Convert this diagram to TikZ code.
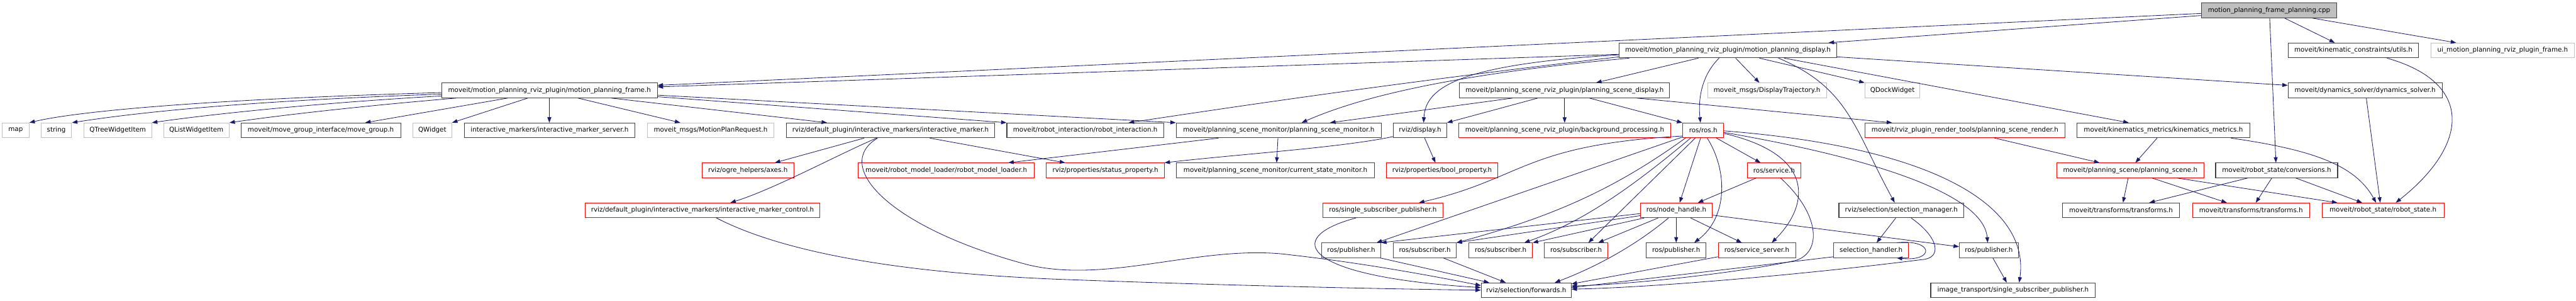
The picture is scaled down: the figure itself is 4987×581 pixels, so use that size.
\documentclass[tikz,border=0pt]{standalone}
\usepackage{fontspec}
\newfontfamily\djv{DejaVu Sans}
\usetikzlibrary{arrows.meta}
\definecolor{edgec}{HTML}{191970}
\definecolor{greyb}{HTML}{BFBFBF}
\definecolor{blackb}{HTML}{404040}
\definecolor{redb}{HTML}{FF0000}
\newcommand\nd[6]{\node[#2, minimum width={#4-#3}] (#1) at ({(#3+#4)/2},#5) {#6};}
\tikzset{
  basebox/.style={rectangle, inner sep=0pt, minimum height=28.5pt, fill=white,
    font=\djv\fontsize{12.6}{15}\selectfont},
  bbox/.style={basebox, draw=blackb, line width=1.3pt},
  rbox/.style={basebox, draw=redb, line width=1pt},
  gbox/.style={basebox, draw=greyb, line width=1.3pt},
  cbox/.style={basebox, draw=blackb, line width=1.3pt, fill=greyb},
  e/.style={draw=edgec, line width=1pt, -{Triangle[length=10.5pt,width=7.5pt]}},
}
\begin{document}
\begin{tikzpicture}[x=1pt,y=-1pt]
\fill[white] (0,0) rectangle (4987,581);
\useasboundingbox (0,0) rectangle (4987,581);
% row 0
\nd{cpp}{cbox}{4261.5}{4524}{20.25}{motion\_planning\_frame\_planning.cpp}
% row 1
\nd{mpd}{bbox}{3134.4}{3555.7}{97.5}{moveit/motion\_planning\_rviz\_plugin/motion\_planning\_display.h}
\nd{kcu}{bbox}{4429.6}{4682.4}{97.5}{moveit/kinematic\_constraints/utils.h}
\nd{uif}{gbox}{4706}{4984}{97.5}{ui\_motion\_planning\_rviz\_plugin\_frame.h}
% row 2
\nd{mpf}{bbox}{855.2}{1272.4}{174.8}{moveit/motion\_planning\_rviz\_plugin/motion\_planning\_frame.h}
\nd{psd}{bbox}{2825.8}{3232.4}{174.8}{moveit/planning\_scene\_rviz\_plugin/planning\_scene\_display.h}
\nd{dtr}{gbox}{3305.7}{3535.9}{174.8}{moveit\_msgs/DisplayTrajectory.h}
\nd{qdw}{gbox}{3610.3}{3716.9}{174.8}{QDockWidget}
\nd{dsv}{bbox}{4429.6}{4727.9}{174.8}{moveit/dynamics\_solver/dynamics\_solver.h}
% row 3
\nd{map}{gbox}{4.3}{56.2}{252.1}{map}
\nd{str}{gbox}{79.3}{138.7}{252.1}{string}
\nd{qtw}{gbox}{162.3}{293.5}{252.1}{QTreeWidgetItem}
\nd{qlw}{gbox}{316.6}{443.5}{252.1}{QListWidgetItem}
\nd{mgi}{bbox}{466.5}{775.6}{252.1}{moveit/move\_group\_interface/move\_group.h}
\nd{qwd}{gbox}{799.1}{874.5}{252.1}{QWidget}
\nd{ims}{bbox}{898.6}{1229.6}{252.1}{interactive\_markers/interactive\_marker\_server.h}
\nd{mpr}{gbox}{1253.1}{1498.4}{252.1}{moveit\_msgs/MotionPlanRequest.h}
\nd{imk}{bbox}{1522.7}{1925.3}{252.1}{rviz/default\_plugin/interactive\_markers/interactive\_marker.h}
\nd{rin}{bbox}{1949.2}{2252.9}{252.1}{moveit/robot\_interaction/robot\_interaction.h}
\nd{psm}{bbox}{2277}{2674.3}{252.1}{moveit/planning\_scene\_monitor/planning\_scene\_monitor.h}
\nd{rdp}{bbox}{2697.8}{2800.7}{252.1}{rviz/display.h}
\nd{bgp}{rbox}{2823.7}{3234.5}{252.1}{moveit/planning\_scene\_rviz\_plugin/background\_processing.h}
\nd{ros}{rbox}{3257.5}{3337}{252.1}{ros/ros.h}
\nd{psr}{rbox}{3610.3}{3997.6}{252.1}{moveit/rviz\_plugin\_render\_tools/planning\_scene\_render.h}
\nd{kmm}{bbox}{4020.6}{4355.7}{252.1}{moveit/kinematics\_metrics/kinematics\_metrics.h}
% row 4
\nd{axs}{rbox}{1359.2}{1536.5}{329.4}{rviz/ogre\_helpers/axes.h}
\nd{rml}{rbox}{1661.6}{2002.3}{329.4}{moveit/robot\_model\_loader/robot\_model\_loader.h}
\nd{stp}{rbox}{2025.8}{2254}{329.4}{rviz/properties/status\_property.h}
\nd{csm}{bbox}{2277}{2661.4}{329.4}{moveit/planning\_scene\_monitor/current\_state\_monitor.h}
\nd{bpr}{rbox}{2684.4}{2899.2}{329.4}{rviz/properties/bool\_property.h}
\nd{srv}{rbox}{3383.2}{3486}{329.4}{ros/service.h}
\nd{psc}{rbox}{3982}{4266.2}{329.4}{moveit/planning\_scene/planning\_scene.h}
\nd{cnv}{bbox}{4289.3}{4525.5}{329.4}{moveit/robot\_state/conversions.h}
% row 5
\nd{imc}{rbox}{1132.6}{1587.4}{406.7}{rviz/default\_plugin/interactive\_markers/interactive\_marker\_control.h}
\nd{ssp}{rbox}{2561.2}{2793.2}{406.7}{ros/single\_subscriber\_publisher.h}
\nd{nhd}{rbox}{3175.6}{3314.9}{406.7}{ros/node\_handle.h}
\nd{slm}{bbox}{3560}{3802}{406.7}{rviz/selection/selection\_manager.h}
\nd{trb}{bbox}{3992.7}{4219.6}{406.7}{moveit/transforms/transforms.h}
\nd{trr}{rbox}{4244.3}{4471.4}{406.7}{moveit/transforms/transforms.h}
\nd{rst}{rbox}{4495.5}{4731.2}{406.7}{moveit/robot\_state/robot\_state.h}
% row 6
\nd{pb1}{rbox}{2558.6}{2673.2}{484}{ros/publisher.h}
\nd{sb1}{rbox}{2697.3}{2819.4}{484}{ros/subscriber.h}
\nd{sb2}{rbox}{2843.5}{2966.7}{484}{ros/subscriber.h}
\nd{sb3}{rbox}{2989.7}{3112.9}{484}{ros/subscriber.h}
\nd{pb2}{bbox}{3187.4}{3302.5}{484}{ros/publisher.h}
\nd{ssv}{rbox}{3326.4}{3475.9}{484}{ros/service\_server.h}
\nd{slh}{rbox}{3549.8}{3694.9}{484}{selection\_handler.h}
\nd{pb3}{rbox}{3793}{3907.6}{484}{ros/publisher.h}
% row 7
\nd{fwd}{bbox}{2867.6}{3041.7}{561.3}{rviz/selection/forwards.h}
\nd{itp}{bbox}{3737.8}{4056.5}{561.3}{image\_transport/single\_subscriber\_publisher.h}

% edges from cpp
\draw[e] (cpp.west |- 0,30) -- (mpd.north -| 3540,0);
\draw[e] (cpp.west |- 0,26) -- (mpf.east |- 0,165);
\draw[e] (cpp.south -| 4423,0) -- (kcu.north -| 4520,0);
\draw[e] (cpp.south -| 4477,0) -- (uif.north -| 4755,0);
\draw[e] (cpp.south -| 4394,0) -- (cnv.north -| 4406,0);
% edges from motion_planning_display
\draw[e] (mpd.west |- 0,105) -- (mpf.east |- 0,168);
\draw[e] (mpd.west |- 0,110) .. controls (2700,160) and (2400,205) .. (rin.north -| 2185,0);
\draw[e] (mpd.south -| 3154,0) .. controls (2850,140) and (2650,180) .. (psm.north -| 2520,0);
\draw[e] (mpd.west |- 0,106) .. controls (2820,125) and (2760,170) .. (rdp.north -| 2756,0);
\draw[e] (mpd.south -| 3288,0) -- (psd.north -| 3090,0);
\draw[e] (mpd.south -| 3328,0) .. controls (3290,150) and (3288,200) .. (ros.north -| 3292,0);
\draw[e] (mpd.south -| 3360,0) -- (dtr.north -| 3406,0);
\draw[e] (mpd.south -| 3406,0) -- (qdw.north west);
\draw[e] (mpd.south -| 3443,0) .. controls (3580,170) and (3590,250) .. (slm.north -| 3668,0);
\draw[e] (mpd.south -| 3454,0) -- (kmm.north -| 4121,0);
\draw[e] (mpd.east |- 0,110) -- (dsv.west |- 0,165);
% edges from planning_scene_display
\draw[e] (psd.south -| 2928,0) -- (psm.north -| 2575,0);
\draw[e] (psd.south -| 2977,0) -- (rdp.north east);
\draw[e] (psd.south -| 3029,0) -- (bgp.north -| 3029,0);
\draw[e] (psd.south -| 3077,0) -- (ros.north west);
\draw[e] (psd.south -| 3169,0) -- (psr.north -| 3663,0);
% edges from motion_planning_frame
\draw[e] (mpf.west |- 0,179) .. controls (400,192) and (150,215) .. (map.north east);
\draw[e] (mpf.west |- 0,182) .. controls (450,196) and (250,220) .. (str.north east);
\draw[e] (mpf.west |- 0,185.5) .. controls (600,200) and (400,222) .. (qtw.north east);
\draw[e] (mpf.south -| 883,0) .. controls (700,205) and (550,222) .. (qlw.north east);
\draw[e] (mpf.south -| 982.6,0) -- (mgi.north -| 707,0);
\draw[e] (mpf.south -| 1021.7,0) -- (qwd.north east);
\draw[e] (mpf.south -| 1063.5,0) -- (ims.north -| 1063.5,0);
\draw[e] (mpf.south -| 1119,0) -- (mpr.north -| 1317,0);
\draw[e] (mpf.south -| 1183.5,0) -- (imk.north -| 1601,0);
\draw[e] (mpf.east |- 0,184) -- (psm.north west);
\draw[e] (mpf.east |- 0,187) -- (rin.north west);
% edges from interactive_marker
\draw[e] (imk.south -| 1673,0) -- (axs.north -| 1500,0);
\draw[e] (imk.south -| 1697,0) .. controls (1620,300) and (1500,365) .. (imc.north -| 1414,0);
\draw[e] (imk.south -| 1699,0) .. controls (1610,320) and (1720,440) .. (1990,512)
   .. controls (2150,550) and (2330,470) .. (2500,493)
   .. controls (2650,510) and (2780,535) .. (fwd.west |- 0,552);
\draw[e] (imk.south -| 1800,0) -- (stp.north -| 2062,0);
% planning_scene_monitor, rviz/display
\draw[e] (psm.south -| 2359,0) -- (rml.north -| 1952,0);
\draw[e] (psm.south -| 2474,0) -- (csm.north -| 2471.5,0);
\draw[e] (rdp.west |- 0,264) .. controls (2600,285) and (2400,298) .. (stp.north east);
\draw[e] (rdp.south -| 2758,0) -- (bpr.north -| 2779,0);
% edges from ros/ros.h
\draw[e] (ros.south -| 3292.3,0) -- (nhd.north -| 3251.7,0);
\draw[e] (ros.south -| 3305,0) .. controls (3345,330) and (3345,420) .. (pb2.north -| 3280,0);
\draw[e] (ros.south -| 3322.7,0) -- (srv.north -| 3408.3,0);
\draw[e] (ros.east |- 0,258) .. controls (3520,300) and (3500,400) .. (ssv.north -| 3430,0);
\draw[e] (ros.east |- 0,256) .. controls (3650,310) and (3840,380) .. (pb3.north -| 3848,0);
\draw[e] (ros.east |- 0,253) .. controls (3750,285) and (3930,400) .. (itp.north -| 3909,0);
\draw[e] (ros.west |- 0,263) .. controls (2950,280) and (2950,345) .. (ssp.north -| 2747,0);
\draw[e] (ros.west |- 0,265) -- (pb1.north -| 2665,0);
\draw[e] (ros.south -| 3263,0) .. controls (3120,370) and (3000,420) .. (sb1.north east);
\draw[e] (ros.south -| 3273,0) .. controls (3150,370) and (3060,430) .. (sb2.north -| 2951,0);
\draw[e] (ros.south -| 3282,0) -- (sb3.north -| 3075,0);
% edges from ros/node_handle.h
\draw[e] (nhd.west |- 0,413) -- (pb1.north east);
\draw[e] (nhd.west |- 0,417) -- (sb1.north east);
\draw[e] (nhd.south -| 3183,0) -- (sb2.north east);
\draw[e] (nhd.south -| 3210,0) -- (sb3.north -| 3094,0);
\draw[e] (nhd.south -| 3245,0) -- (pb2.north -| 3245,0);
\draw[e] (nhd.south -| 3273,0) -- (ssv.north -| 3372,0);
\draw[e] (nhd.south -| 3230,0) .. controls (3160,480) and (3080,520) .. (fwd.north -| 3010,0);
\draw[e] (nhd.east |- 0,416) -- (pb3.west |- 0,477);
% ros/service.h
\draw[e] (srv.south -| 3400,0) -- (nhd.north -| 3287,0);
\draw[e] (srv.south -| 3447,0) .. controls (3530,420) and (3525,495) .. (3470,505)
   .. controls (3350,530) and (3150,550) .. (fwd.east |- 0,553);
% service server, selection
\draw[e] (ssv.west |- 0,496.5) -- (fwd.east |- 0,549);
\draw[e] (slm.south -| 3670,0) -- (slh.north -| 3633,0);
\draw[e] (slm.south -| 3700,0) .. controls (3755,460) and (3760,500) .. (3720,502)
   .. controls (3500,530) and (3200,556) .. (fwd.east |- 0,559);
\draw[e] (slh.north -| 3672,0) .. controls (3745,462) and (3745,506) .. (slh.south -| 3672,0);
\draw[e] (slh.west |- 0,496.5) -- (fwd.east |- 0,556);
\draw[e] (pb3.south -| 3858,0) -- (itp.north -| 3885,0);
% into forwards from the left
\draw[e] (ssp.south -| 2625,0) .. controls (2480,460) and (2520,535) .. (fwd.west |- 0,556);
\draw[e] (pb1.south -| 2672,0) -- (fwd.north -| 2883,0);
\draw[e] (sb1.south -| 2794,0) -- (fwd.north -| 2915,0);
\draw[e] (imc.south -| 1387,0) .. controls (1520,490) and (1750,528) .. (2050,540)
   .. controls (2400,553) and (2700,559) .. (fwd.west |- 0,561);
% right part
\draw[e] (psr.south -| 3861,0) -- (psc.north -| 4064.5,0);
\draw[e] (kmm.south -| 4176,0) -- (psc.north -| 4134,0);
\draw[e] (kmm.south -| 4319,0) .. controls (4480,290) and (4560,320) .. (rst.north -| 4600,0);
\draw[e] (psc.south -| 4120,0) -- (trb.north -| 4110,0);
\draw[e] (psc.south -| 4166,0) -- (trr.north -| 4311,0);
\draw[e] (psc.south -| 4214,0) -- (rst.north -| 4525,0);
\draw[e] (cnv.south -| 4351,0) -- (trb.north -| 4161,0);
\draw[e] (cnv.south -| 4398,0) -- (trr.north -| 4367,0);
\draw[e] (cnv.south -| 4444.6,0) -- (rst.north -| 4573,0);
\draw[e] (dsv.south -| 4581,0) -- (rst.north -| 4608,0);
\draw[e] (kcu.south -| 4621,0) .. controls (4790,160) and (4780,280) .. (rst.north -| 4638,0);
\end{tikzpicture}
\end{document}
